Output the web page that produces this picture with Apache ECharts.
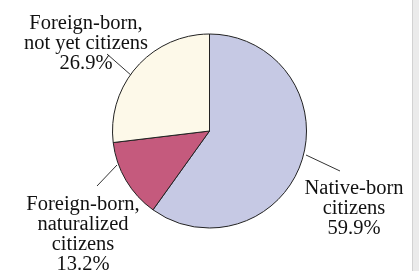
<!DOCTYPE html>
<html>
<head>
<meta charset="utf-8">
<script src="https://cdn.jsdelivr.net/npm/echarts@6/dist/echarts.min.js"></script>
<style>
html,body{margin:0;padding:0;background:#fff;}
#c{width:419px;height:271px;}
</style>
</head>
<body>
<div id="c"></div>
<script>
// Data
const categories = ['Native-born\ncitizens', 'Foreign-born,\nnaturalized\ncitizens', 'Foreign-born,\nnot yet citizens'];
const shares = [59.9, 13.2, 26.9];
const sliceColors = ['#c6c9e4', '#c55a7d', '#fdf9e9'];

// Label placement (styling only)
const labelSpots = [
  {x: 354, y: 209, line: [[306, 155], [340, 171]]},
  {x: 83, y: 234.5, line: [[117, 165], [97, 186]]},
  {x: 86, y: 43.5, line: [[132, 76], [107, 54]]}
];

const chart = echarts.init(document.getElementById('c'), null, {renderer: 'canvas'});
chart.setOption({
  animation: false,
  graphic: [
    {type: 'rect', shape: {x: 412, y: 0, width: 7, height: 271}, style: {fill: '#ebebeb'}, silent: true},
    {type: 'rect', shape: {x: 412, y: 0, width: 1, height: 271}, style: {fill: '#d2d2d2'}, silent: true}
  ],
  series: [{
    type: 'pie',
    center: [209.5, 131],
    radius: 97,
    startAngle: 90,
    clockwise: true,
    silent: true,
    emphasis: {disabled: true},
    itemStyle: {borderColor: '#222', borderWidth: 1},
    label: {
      show: true,
      position: 'outside',
      fontFamily: '"Liberation Serif", "Times New Roman", serif',
      fontSize: 20.5,
      lineHeight: 20,
      color: '#111',
      align: 'center',
      overflow: 'none',
      width: 200,
      formatter: function (p) { return p.name + '\n' + p.value.toFixed(1) + '%'; }
    },
    labelLine: {show: true, lineStyle: {color: '#333', width: 1}},
    labelLayout: function (params) {
      const s = labelSpots[params.dataIndex];
      return {x: s.x, y: s.y, align: 'center', verticalAlign: 'middle', labelLinePoints: s.line};
    },
    data: categories.map((c, i) => ({name: c, value: shares[i], itemStyle: {color: sliceColors[i]}}))
  }]
});
</script>
</body>
</html>
